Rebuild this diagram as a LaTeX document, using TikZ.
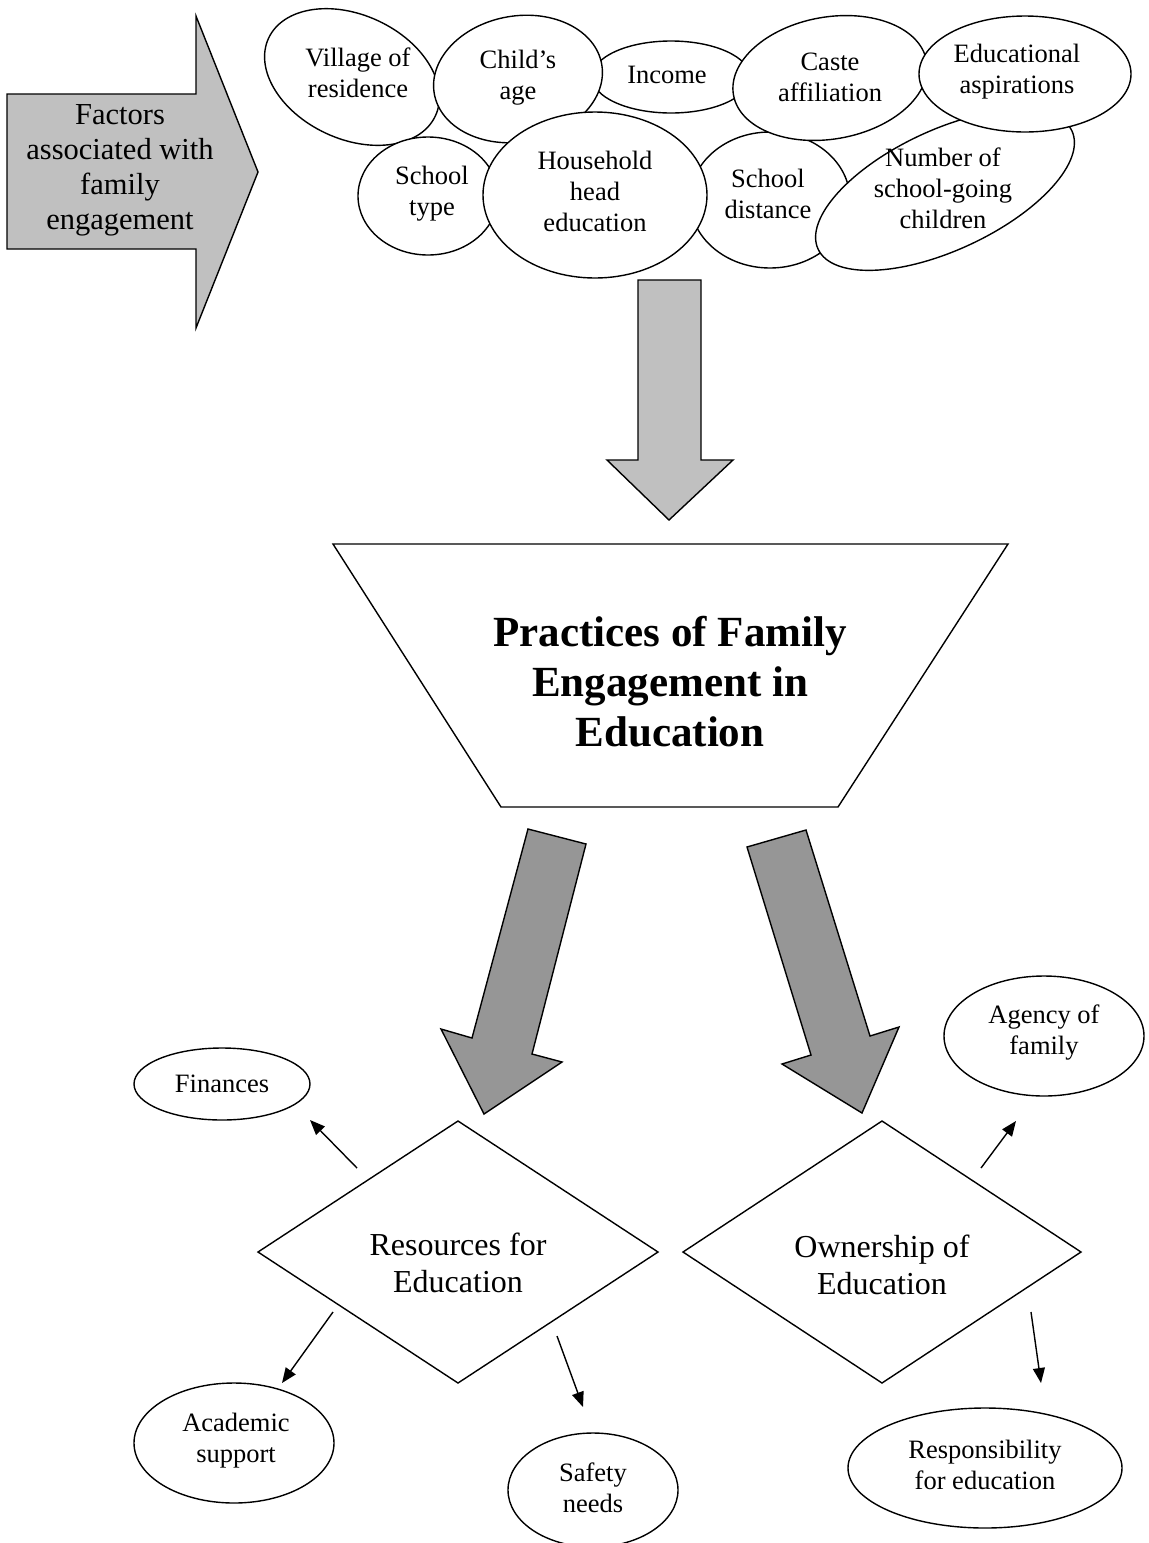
\documentclass[tikz,border=0pt]{standalone}
\usepackage{fontspec}
\setmainfont{Liberation Serif}
\usetikzlibrary{shapes.geometric,arrows.meta}
\definecolor{lgray}{HTML}{C0C0C0}
\definecolor{dgray}{HTML}{969696}
\tikzset{
  oval/.style={ellipse, draw, fill=white, line width=1.4pt, inner sep=0pt, outer sep=0pt},
  lbl/.style={align=center, font=\fontsize{26.5}{31}\selectfont, inner sep=0pt},
  biglbl/.style={align=center, font=\fontsize{30.5}{35}\selectfont, inner sep=0pt},
  dlbl/.style={align=center, font=\fontsize{32}{37}\selectfont, inner sep=0pt},
  ttl/.style={align=center, font=\bfseries\fontsize{43}{50}\selectfont, inner sep=0pt},
  blocklight/.style={draw, line width=1.4pt, fill=lgray, line join=miter},
  blockdark/.style={draw, line width=1.4pt, fill=dgray, line join=miter},
  outline/.style={draw, line width=1.4pt, line join=miter},
  dia/.style={diamond, draw, line width=1.4pt, inner sep=0pt, outer sep=0pt},
  conn/.style={line width=1.4pt, -{Triangle[length=15pt,width=12pt]}},
}
\begin{document}
\begin{tikzpicture}[x=1pt,y=-1pt]
\useasboundingbox (0,0) rectangle (1149,1543);
% left block arrow
\draw[blocklight] (7,94) -- (196,94) -- (196,16) -- (258,172) -- (196,328) -- (196,249) -- (7,249) -- cycle;
\node[biglbl] (factors) at (120,170) {Factors\\associated with\\family\\engagement};
% factor ellipses (shapes first, texts after)
\node[oval, minimum width=184pt, minimum height=124pt, rotate=-25] (vil) at (352,77) {};
\node[oval, minimum width=158pt, minimum height=72pt] (inc) at (671,77) {};
\node[oval, minimum width=160pt, minimum height=136pt] (dist) at (770,200) {};
\node[oval, minimum width=280pt, minimum height=120pt, rotate=25] (num) at (945,190) {};
\node[oval, minimum width=170pt, minimum height=126pt, rotate=10] (chi) at (518,79) {};
\node[oval, minimum width=196pt, minimum height=122pt, rotate=10] (cas) at (830,78) {};
\node[oval, minimum width=212pt, minimum height=116pt] (edu) at (1025,74) {};
\node[oval, minimum width=140pt, minimum height=118pt] (typ) at (428,196) {};
\node[oval, minimum width=224pt, minimum height=166pt] (hh) at (595,195) {};
\node[lbl] (viltxt) at (358,73) {Village of\\residence};
\node[lbl] (chitxt) at (518,78) {Child’s\\age};
\node[lbl] (inctxt) at (667,75) {Income};
\node[lbl] (castxt) at (830,77) {Caste\\affiliation};
\node[lbl] (edutxt) at (1017,72) {Educational\\aspirations};
\node[lbl] (typtxt) at (432,194) {School\\type};
\node[lbl] (hhtxt) at (595,191) {Household\\head\\education};
\node[lbl] (disttxt) at (768,194) {School\\distance};
\node[lbl] (numtxt) at (943,188) {Number of\\school-going\\children};
% down arrow
\draw[blocklight] (638,280) -- (701,280) -- (701,460) -- (733,460) -- (669,520) -- (607,460) -- (638,460) -- cycle;
% trapezoid
\draw[outline] (333,544) -- (1008,544) -- (838,807) -- (501,807) -- cycle;
\node[ttl] (prac) at (670,682) {Practices of Family\\Engagement in\\Education};
% dark arrows
\draw[blockdark] (528,829) -- (586,844) -- (532,1054) -- (562,1062) -- (484,1114) -- (441,1029) -- (472,1038) -- cycle;
\draw[blockdark] (747,847) -- (806,830) -- (870,1036) -- (899,1027) -- (862,1113) -- (782,1064) -- (811,1055) -- cycle;
% diamonds
\node[dia, minimum width=400pt, minimum height=262pt] (res) at (458,1252) {};
\node[dlbl] (restxt) at (458,1263) {Resources for\\Education};
\node[dia, minimum width=398pt, minimum height=262pt] (own) at (882,1252) {};
\node[dlbl] (owntxt) at (882,1265) {Ownership of\\Education};
% outcome ellipses
\node[oval, minimum width=176pt, minimum height=72pt] (fin) at (222,1084) {};
\node[lbl] (fintxt) at (fin) {Finances};
\node[oval, minimum width=200pt, minimum height=120pt] (aca) at (234,1443) {};
\node[lbl] (acatxt) at (236,1441) {Academic\\support};
\node[oval, minimum width=170pt, minimum height=114pt] (saf) at (593,1490) {};
\node[lbl] (saftxt) at (593,1488) {Safety\\needs};
\node[oval, minimum width=200pt, minimum height=120pt] (age) at (1044,1036) {};
\node[lbl] (agetxt) at (1044,1033) {Agency of\\family};
\node[oval, minimum width=274pt, minimum height=120pt] (resp) at (985,1468) {};
\node[lbl] (resptxt) at (985,1465) {Responsibility\\for education};
% connector ends
\coordinate (rf1) at (357,1168); \coordinate (rf2) at (310,1120);
\coordinate (ra1) at (333,1312); \coordinate (ra2) at (282,1383);
\coordinate (rs1) at (557,1336); \coordinate (rs2) at (583,1407);
\coordinate (oa1) at (981,1168); \coordinate (oa2) at (1016,1121);
\coordinate (or1) at (1031,1312); \coordinate (or2) at (1041,1383);
\draw[conn] (rf1) -- (rf2);
\draw[conn] (ra1) -- (ra2);
\draw[conn] (rs1) -- (rs2);
\draw[conn] (oa1) -- (oa2);
\draw[conn] (or1) -- (or2);
\end{tikzpicture}
\end{document}
